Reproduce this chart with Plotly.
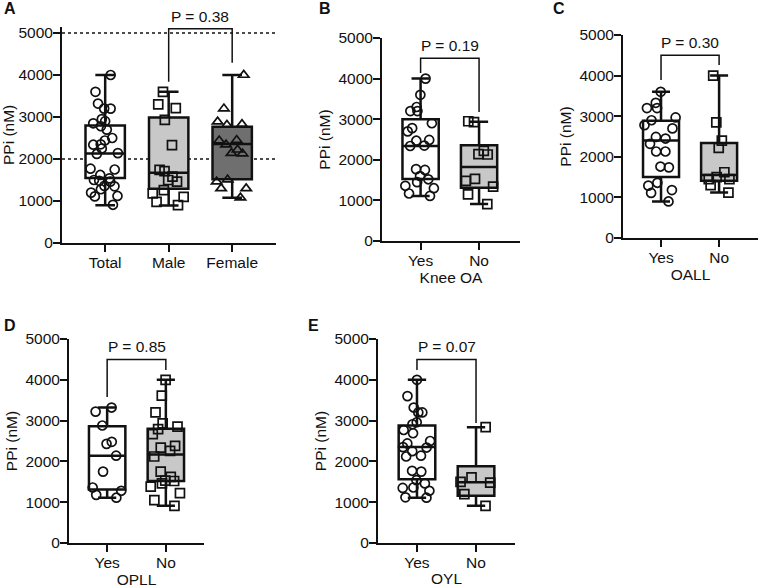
import plotly.graph_objects as go

# ---------------- data ----------------
A_cats = ["Total", "Male", "Female"]
YN_cats = ["Yes", "No"]

A_total = [4000, 3600, 3320, 3200, 3200, 2950, 2900, 2850, 2780, 2700, 2500, 2440, 2350, 2340,
           2250, 2140, 2120, 1770, 1750, 1620, 1540, 1500, 1480, 1460, 1360, 1350, 1280, 1200,
           1120, 1110, 910]
A_male = [3600, 3300, 3210, 2930, 2330, 1740, 1710, 1580, 1500, 1460, 1260, 1180, 1100, 980, 900]
A_female = [4000, 3200, 2890, 2830, 2810, 2450, 2440, 2340, 2220, 2140, 2130, 1510, 1460, 1300,
            1300, 1080]
# box stats: [min, q1, median, q3, max]
A_total_stats = [900, 1550, 2130, 2800, 4000]
A_male_stats = [890, 1290, 1670, 2990, 3600]
A_female_stats = [1080, 1520, 2360, 2770, 4000]

B_yes = [4000, 3600, 3300, 3200, 3200, 2900, 2780, 2700, 2490, 2470, 2350, 2340, 1770, 1750,
         1600, 1520, 1450, 1360, 1300, 1170, 1110]
B_no = [2930, 2950, 2220, 2140, 2130, 1530, 1480, 1340, 1150, 910]
B_yes_stats = [1110, 1530, 2340, 3000, 4000]
B_no_stats = [910, 1310, 1820, 2360, 2940]

C_yes = [3600, 3330, 3200, 3200, 2970, 2900, 2780, 2700, 2490, 2450, 2320, 2130, 2130, 1760,
         1740, 1360, 1290, 1180, 1110, 900]
C_no = [4000, 2850, 2400, 2220, 1620, 1500, 1450, 1450, 1300, 1120]
C_yes_stats = [900, 1500, 2400, 2890, 3600]
C_no_stats = [1120, 1410, 1550, 2340, 4000]

D_yes = [3320, 3220, 2880, 2480, 2430, 2140, 1750, 1360, 1280, 1180, 1110]
D_no = [4000, 3610, 3200, 2930, 2850, 2790, 2670, 2380, 2340, 2260, 2120, 1750, 1620, 1530,
        1520, 1460, 1380, 1220, 1050, 910]
D_yes_stats = [1110, 1310, 2140, 2860, 3320]
D_no_stats = [910, 1520, 2170, 2800, 4000]

E_yes = [4000, 3600, 3320, 3200, 3200, 2960, 2910, 2770, 2690, 2500, 2440, 2350, 2340, 2250,
         2140, 2120, 1770, 1750, 1540, 1460, 1360, 1350, 1280, 1120, 1110]
E_no = [2840, 1610, 1500, 1480, 1200, 910]
E_yes_stats = [1110, 1560, 2350, 2880, 4000]
E_no_stats = [910, 1160, 1490, 1880, 2840]

# significance brackets: (left category, right category, left leg, right leg, top, label)
A_sig = ("Male", "Female", 3840, 4290, 5100, "P = 0.38")
B_sig = ("Yes", "No", 4140, 3180, 4500, "P = 0.19")
C_sig = ("Yes", "No", 3890, 4260, 4500, "P = 0.30")
D_sig = ("Yes", "No", 3580, 4240, 4500, "P = 0.85")
E_sig = ("Yes", "No", 4240, 2940, 4500, "P = 0.07")

Y_TICKS = [0, 1000, 2000, 3000, 4000, 5000]
A_REF_LINES = [2000, 5000]

# ---------------- styling ----------------
W, H = 760, 588
FONT = "Liberation Sans, Arial, sans-serif"
INK = "#111111"
WHITE = "#ffffff"
LGREY = "#c8c8c8"
DGREY = "#6f6f6f"
FS = 15.5


def fx(p):
    return p / W


def fy(p):
    return 1 - p / H


panels = [
    dict(key="", label="A", cats=A_cats,
         groups=[(A_total, A_total_stats, WHITE, "circle-open"),
                 (A_male, A_male_stats, LGREY, "square-open"),
                 (A_female, A_female_stats, DGREY, "triangle-up-open")],
         xdom=(62, 276), ydom=(243, 26.7), xrange=[-0.68, 2.69], yrange=[0, 5150],
         xtitle="", sig=A_sig, lab_xy=(10, 9), refl=A_REF_LINES),
    dict(key="2", label="B", cats=YN_cats,
         groups=[(B_yes, B_yes_stats, WHITE, "circle-open"),
                 (B_no, B_no_stats, LGREY, "square-open")],
         xdom=(382, 520), ydom=(241, 38), xrange=[-0.66, 1.70], yrange=[0, 5000],
         xtitle="Knee OA", sig=B_sig, lab_xy=(325, 9), refl=[]),
    dict(key="3", label="C", cats=YN_cats,
         groups=[(C_yes, C_yes_stats, WHITE, "circle-open"),
                 (C_no, C_no_stats, LGREY, "square-open")],
         xdom=(623, 758), ydom=(238, 35), xrange=[-0.655, 1.67], yrange=[0, 5000],
         xtitle="OALL", sig=C_sig, lab_xy=(559, 9), refl=[]),
    dict(key="4", label="D", cats=YN_cats,
         groups=[(D_yes, D_yes_stats, WHITE, "circle-open"),
                 (D_no, D_no_stats, LGREY, "square-open")],
         xdom=(69, 204), ydom=(543, 339), xrange=[-0.65, 1.65], yrange=[0, 5000],
         xtitle="OPLL", sig=D_sig, lab_xy=(10, 325), refl=[]),
    dict(key="5", label="E", cats=YN_cats,
         groups=[(E_yes, E_yes_stats, WHITE, "circle-open"),
                 (E_no, E_no_stats, LGREY, "square-open")],
         xdom=(378, 515), ydom=(543, 339), xrange=[-0.66, 1.66], yrange=[0, 5000],
         xtitle="OYL", sig=E_sig, lab_xy=(313, 325), refl=[]),
]

fig = go.Figure()
layout = dict(
    width=W, height=H, template="none", showlegend=False,
    margin=dict(l=0, r=0, t=0, b=0), paper_bgcolor="white", plot_bgcolor="rgba(0,0,0,0)",
    font=dict(family=FONT, size=FS, color=INK), boxmode="overlay",
    shapes=[], annotations=[],
)

BOXW = 0.62
for p in panels:
    k = p["key"]
    xa, ya = "x" + k, "y" + k
    for cat, (vals, st, fill, sym) in zip(p["cats"], p["groups"]):
        # box (min to max whiskers)
        fig.add_trace(go.Box(
            x=[cat], lowerfence=[st[0]], q1=[st[1]], median=[st[2]], q3=[st[3]],
            upperfence=[st[4]], fillcolor=fill, line=dict(color=INK, width=2.5),
            width=BOXW, whiskerwidth=0.5, boxpoints=False, xaxis=xa, yaxis=ya,
            hoverinfo="skip"))
        # individual points
        fig.add_trace(go.Box(
            x=[cat] * len(vals), y=vals, boxpoints="all", jitter=1.0, pointpos=0,
            fillcolor="rgba(0,0,0,0)", line=dict(color="rgba(0,0,0,0)", width=0),
            whiskerwidth=0, width=BOXW,
            marker=dict(symbol=sym, size=9, color=INK, line=dict(color=INK, width=1.7)),
            xaxis=xa, yaxis=ya))
    # significance bracket
    c0, c1, l0, l1, top, txt = p["sig"]
    fig.add_trace(go.Scatter(x=[c0, c0, c1, c1], y=[l0, top, top, l1], mode="lines",
                             line=dict(color=INK, width=1.5), xaxis=xa, yaxis=ya,
                             hoverinfo="skip"))
    i0, i1 = p["cats"].index(c0), p["cats"].index(c1)
    layout["annotations"].append(dict(
        x=(i0 + i1) / 2, y=top, xref=xa, yref=ya, text=txt, showarrow=False,
        yanchor="bottom", yshift=2, font=dict(size=FS, color=INK)))
    # reference dotted lines
    for v in p["refl"]:
        layout["shapes"].append(dict(
            type="line", xref=xa + " domain", yref=ya, x0=0, x1=1, y0=v, y1=v,
            line=dict(color=INK, width=1.6, dash="dot"), layer="below"))
    # panel letter
    lx, ly = p["lab_xy"]
    layout["annotations"].append(dict(
        x=fx(lx), y=fy(ly), xref="paper", yref="paper", text="<b>%s</b>" % p["label"],
        showarrow=False, xanchor="center", yanchor="middle", font=dict(size=16, color=INK)))

    x0, x1 = p["xdom"]
    yb, yt = p["ydom"]
    layout["xaxis" + k] = dict(
        domain=[fx(x0), fx(x1)], range=p["xrange"], anchor=ya, type="category",
        categoryorder="array", categoryarray=p["cats"],
        showline=True, linecolor=INK, linewidth=2, ticks="outside", ticklen=7,
        tickwidth=2, tickcolor=INK, showgrid=False, zeroline=False, automargin=False,
        ticklabelstandoff=-3,
        tickfont=dict(size=FS, color=INK),
        title=dict(text=p["xtitle"], standoff=4, font=dict(size=FS, color=INK)))
    layout["yaxis" + k] = dict(
        domain=[fy(yb), fy(yt)], range=p["yrange"], anchor=xa,
        tickvals=Y_TICKS, showline=True, linecolor=INK, linewidth=2, ticks="outside",
        ticklen=7, tickwidth=2, tickcolor=INK, showgrid=False, zeroline=False,
        automargin=False, ticklabelstandoff=-3, tickfont=dict(size=FS, color=INK),
        title=dict(text="PPi (nM)", standoff=4, font=dict(size=FS, color=INK)))

fig.update_layout(**layout)
fig.write_html("out.html", config={"displayModeBar": False},
               post_script="document.body.style.margin='0';document.body.style.overflow='hidden';")
